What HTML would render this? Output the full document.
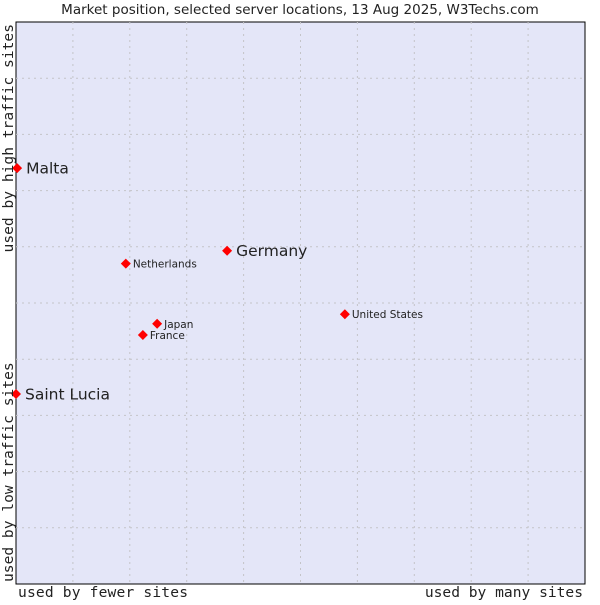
<!DOCTYPE html>
<html><head><meta charset="utf-8"><style>
body{margin:0;background:#fff;width:600px;height:600px;overflow:hidden}
svg text{font-family:"DejaVu Sans","Liberation Sans",sans-serif;fill:#222}
.mono{font-family:"DejaVu Sans Mono","Liberation Mono",monospace !important}
</style></head><body>
<svg id="chart" width="600" height="600">
<text x="300" y="14" text-anchor="middle" font-size="13.5">Market position, selected server locations, 13 Aug 2025, W3Techs.com</text>
<rect x="16" y="22" width="569" height="562" fill="#e4e6f8" stroke="#000" stroke-width="1"/>
<g id="grid"></g>
<g id="marks"></g>
<text class="mono" x="18" y="597" font-size="14.6" textLength="170">used by fewer sites</text>
<text class="mono" x="583" y="597" text-anchor="end" font-size="14.6">used by many sites</text>
<text class="mono" transform="translate(13,582) rotate(-90)" font-size="14.6">used by low traffic sites</text>
<text class="mono" transform="translate(13,24) rotate(-90)" text-anchor="end" font-size="14.6">used by high traffic sites</text>
</svg>
<script>
const names=["Malta","Germany","Netherlands","United States","Japan","France","Saint Lucia"];
const xVals=[0.2,37.1,19.3,57.8,24.8,22.3,0];
const yVals=[74.0,59.3,57.0,48.0,46.3,44.3,33.8];
const big=[true,true,false,false,false,false,true];
const L=16,R=585,T=22,B=584;
const sx=v=>L+v/100*(R-L), sy=v=>B-v/100*(B-T);
const NS="http://www.w3.org/2000/svg";
const grid=document.getElementById('grid'),marks=document.getElementById('marks');
for(let i=1;i<10;i++){
 const a=document.createElementNS(NS,'line');
 
 
 a.setAttribute('x1',sx(i*10));a.setAttribute('x2',sx(i*10));a.setAttribute('y1',T);a.setAttribute('y2',B);
 a.setAttribute('stroke','#c4c4c8');a.setAttribute('stroke-dasharray','2,4');grid.appendChild(a);
 const b=document.createElementNS(NS,'line');
 
 
 b.setAttribute('y1',sy(i*10));b.setAttribute('y2',sy(i*10));b.setAttribute('x1',L);b.setAttribute('x2',R);
 b.setAttribute('stroke','#c4c4c8');b.setAttribute('stroke-dasharray','2,4');grid.appendChild(b);
}
names.forEach((n,i)=>{
 const x=sx(xVals[i]),y=sy(yVals[i]);
 const p=document.createElementNS(NS,'polygon');
 
 
 p.setAttribute('points',`${x},${y-5} ${x+5},${y} ${x},${y+5} ${x-5},${y}`);
 p.setAttribute('fill','#f00');marks.appendChild(p);
 const t=document.createElementNS(NS,'text');
 
 
 t.setAttribute('x',x+(big[i]?9:7));t.setAttribute('y',y+(big[i]?5.5:4));
 t.setAttribute('font-size',big[i]?15.5:10.5);t.textContent=n;marks.appendChild(t);
});
</script>
</body></html>
